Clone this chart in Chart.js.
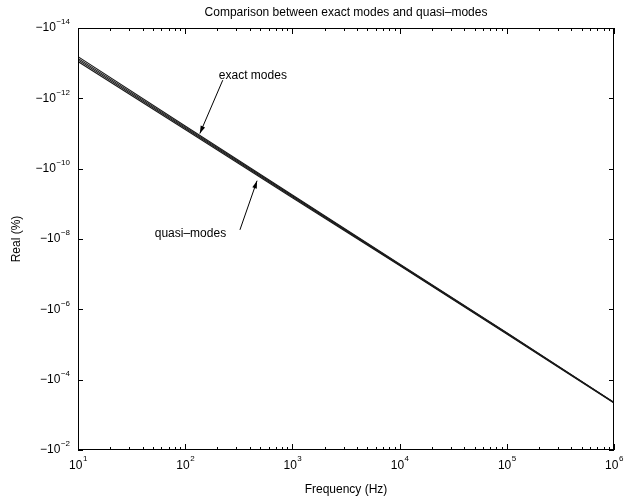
<!DOCTYPE html>
<html>
<head>
<meta charset="utf-8">
<script src="https://cdn.jsdelivr.net/npm/chart.js@4"></script>
<style>
  html, body { margin: 0; padding: 0; background: #fff; }
  #wrap { width: 629px; height: 504px; }
</style>
</head>
<body>
<div id="wrap"><canvas id="chart"></canvas></div>
<script>
// frequencies (Hz), one point per decade
const freqs = [1e1, 1e2, 1e3, 1e4, 1e5, 1e6];

// real part (%) - four nearly overlapping curves (exact modes / quasi-modes)
const modeA = [-6.5e-14, -6.1e-12, -5.6e-10, -5.1e-8, -4.6e-6, -4.4e-4];
const modeB = [-7.3e-14, -6.6e-12, -5.9e-10, -5.3e-8, -4.7e-6, -4.5e-4];
const modeC = [-8.1e-14, -7.1e-12, -6.3e-10, -5.5e-8, -4.9e-6, -4.5e-4];
const modeD = [-9.0e-14, -7.7e-12, -6.7e-10, -5.7e-8, -5.0e-6, -4.6e-4];

// tick labels
const xTickExp = [1, 2, 3, 4, 5, 6];
const yTickExp = [-14, -12, -10, -8, -6, -4, -2];

// annotations: [text, textFreq, textVal, tailFreq, tailVal, tipFreq, tipVal]
const notes = [
  ['exact modes', 206, -2.2e-13, 224, -3.05e-13, 137, -1.0e-11],
  ['quasi\u2013modes', 52, -7.1e-9, 324, -5.5e-9, 468, -2.2e-10]
];

const FONT = '"Liberation Sans", Arial, Helvetica, sans-serif';

// log scale can't take negatives, so plot magnitude on a reversed axis
function toPts(vals) {
  return vals.map((v, i) => ({ x: freqs[i], y: Math.abs(v) }));
}

const series = [modeA, modeB, modeC, modeD];

const frame = {
  id: 'frame',
  afterDraw(chart) {
    const ctx = chart.ctx;
    const a = chart.chartArea;
    const xs = chart.scales.x, ys = chart.scales.y;
    ctx.save();
    ctx.strokeStyle = '#000';
    ctx.fillStyle = '#000';
    ctx.lineWidth = 1;
    ctx.strokeRect(a.left + 0.5, a.top + 0.5, a.right - a.left - 1, a.bottom - a.top - 1);

    // x ticks, major and minor, inside on bottom and top
    ctx.beginPath();
    for (let e = 1; e <= 6; e++) {
      for (let m = 1; m <= 9; m++) {
        const f = m * Math.pow(10, e);
        if (f > 1e6) break;
        const px = Math.round(xs.getPixelForValue(f)) + 0.5;
        const len = m === 1 ? 6 : 3;
        ctx.moveTo(px, a.bottom); ctx.lineTo(px, a.bottom - len);
        ctx.moveTo(px, a.top); ctx.lineTo(px, a.top + len);
      }
    }
    // y ticks
    yTickExp.forEach(e => {
      const py = Math.round(ys.getPixelForValue(Math.pow(10, e))) + 0.5;
      ctx.moveTo(a.left, py); ctx.lineTo(a.left + 5, py);
      ctx.moveTo(a.right, py); ctx.lineTo(a.right - 5, py);
    });
    ctx.stroke();

    // x tick labels
    ctx.textBaseline = 'middle';
    xTickExp.forEach(e => {
      const px = xs.getPixelForValue(Math.pow(10, e));
      ctx.font = '12px ' + FONT;
      const wb = ctx.measureText('10').width;
      ctx.font = '8px ' + FONT;
      const we = ctx.measureText(String(e)).width;
      const x0 = px - (wb + we) / 2;
      ctx.textAlign = 'left';
      ctx.font = '12px ' + FONT;
      ctx.fillText('10', x0, a.bottom + 16);
      ctx.font = '8px ' + FONT;
      ctx.fillText(String(e), x0 + wb + 0.5, a.bottom + 9);
    });

    // y tick labels
    yTickExp.forEach(e => {
      const py = ys.getPixelForValue(Math.pow(10, e));
      const es = '\u2212' + Math.abs(e);
      ctx.font = '8px ' + FONT;
      const we = ctx.measureText(es).width;
      ctx.textAlign = 'right';
      ctx.fillText(es, a.left - 8, py - 6);
      ctx.font = '12px ' + FONT;
      ctx.fillText('\u221210', a.left - 8 - we - 0.5, py);
    });

    // titles
    ctx.font = '12px ' + FONT;
    ctx.textAlign = 'center';
    ctx.fillText('Comparison between exact modes and quasi\u2013modes', (a.left + a.right) / 2, 13);
    ctx.fillText('Frequency (Hz)', (a.left + a.right) / 2, 490);
    ctx.save();
    ctx.translate(17, (a.top + a.bottom) / 2);
    ctx.rotate(-Math.PI / 2);
    ctx.fillText('Real (%)', 0, 0);
    ctx.restore();

    // annotations with arrows
    notes.forEach(n => {
      const tx = xs.getPixelForValue(n[1]), ty = ys.getPixelForValue(Math.abs(n[2]));
      const x1 = xs.getPixelForValue(n[3]), y1 = ys.getPixelForValue(Math.abs(n[4]));
      const x2 = xs.getPixelForValue(n[5]), y2 = ys.getPixelForValue(Math.abs(n[6]));
      ctx.font = '12px ' + FONT;
      ctx.textAlign = 'left';
      ctx.fillText(n[0], tx, ty);
      ctx.beginPath();
      ctx.moveTo(x1, y1); ctx.lineTo(x2, y2);
      ctx.stroke();
      const ang = Math.atan2(y2 - y1, x2 - x1);
      const hl = 8, hw = 0.3;
      ctx.beginPath();
      ctx.moveTo(x2, y2);
      ctx.lineTo(x2 - hl * Math.cos(ang - hw), y2 - hl * Math.sin(ang - hw));
      ctx.lineTo(x2 - hl * Math.cos(ang + hw), y2 - hl * Math.sin(ang + hw));
      ctx.closePath();
      ctx.fill();
    });
    ctx.restore();
  }
};

new Chart(document.getElementById('chart'), {
  type: 'line',
  data: {
    datasets: series.map(s => ({
      data: toPts(s),
      borderColor: '#1a1a1a',
      borderWidth: 1.1,
      pointRadius: 0,
      fill: false,
      tension: 0
    }))
  },
  options: {
    responsive: true,
    maintainAspectRatio: false,
    animation: false,
    layout: { padding: { left: 78, top: 28, right: 15, bottom: 54 } },
    plugins: { legend: { display: false }, tooltip: { enabled: false } },
    scales: {
      x: { type: 'logarithmic', min: 1e1, max: 1e6, display: false },
      y: { type: 'logarithmic', min: 1e-14, max: 1e-2, reverse: true, display: false }
    }
  },
  plugins: [frame]
});
</script>
</body>
</html>
